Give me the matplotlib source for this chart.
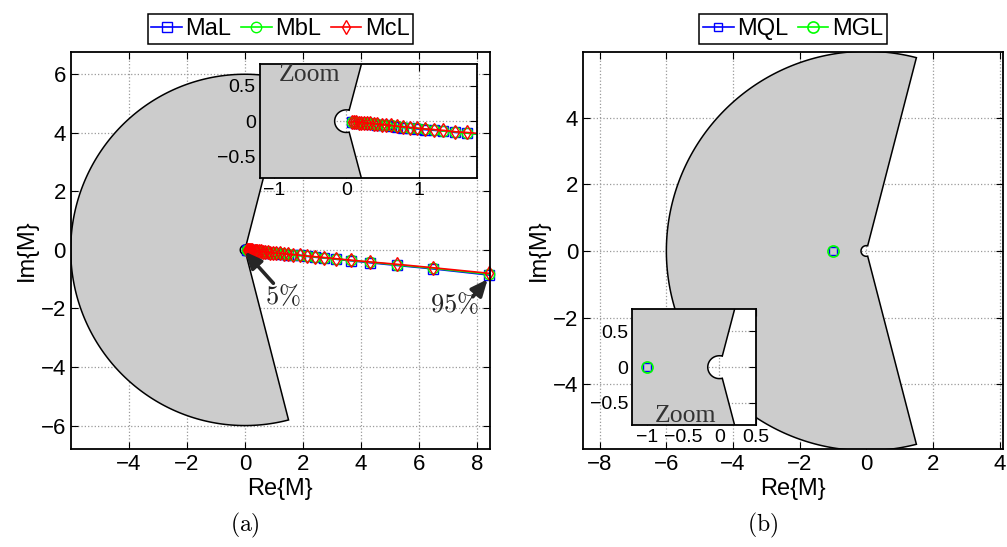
import numpy as np
import matplotlib
matplotlib.use("Agg")
import matplotlib.pyplot as plt
from matplotlib.patches import Polygon

plt.rcParams['font.family'] = ['Liberation Sans', 'DejaVu Sans']
plt.rcParams['mathtext.fontset'] = 'cm'

# forbidden region (grey): sector of radius R between +/- ang deg, minus small disk r
R_out = 6.0
r_in = 0.16
ang = 75.5

# (a) loci, 5% .. 95%
re_L = [0.08, 0.11, 0.14, 0.17, 0.21, 0.24, 0.29, 0.33, 0.38, 0.43, 0.49, 0.55,
        0.62, 0.70, 0.78, 0.88, 0.98, 1.08, 1.21, 1.34, 1.50, 1.67, 1.88, 2.13,
        2.41, 2.73, 3.14, 3.64, 4.31, 5.23, 6.49, 8.42]
im_MaL = [-0.01, -0.01, -0.02, -0.02, -0.02, -0.03, -0.03, -0.04, -0.04, -0.05, -0.05, -0.06,
          -0.07, -0.08, -0.09, -0.10, -0.11, -0.12, -0.13, -0.14, -0.16, -0.17, -0.19, -0.22,
          -0.25, -0.28, -0.32, -0.37, -0.44, -0.53, -0.65, -0.86]
im_MbL = [-0.01, -0.01, -0.01, -0.02, -0.02, -0.02, -0.03, -0.03, -0.04, -0.04, -0.05, -0.06,
          -0.06, -0.07, -0.08, -0.09, -0.10, -0.11, -0.12, -0.14, -0.15, -0.17, -0.19, -0.21,
          -0.24, -0.27, -0.31, -0.36, -0.42, -0.51, -0.63, -0.83]
im_McL = [-0.01, -0.01, -0.01, -0.02, -0.02, -0.02, -0.03, -0.03, -0.04, -0.04, -0.05, -0.05,
          -0.06, -0.07, -0.08, -0.09, -0.10, -0.11, -0.12, -0.13, -0.15, -0.16, -0.18, -0.21,
          -0.23, -0.26, -0.30, -0.35, -0.41, -0.49, -0.61, -0.80]

# (b) single points
re_MQL = [-1.0]
im_MQL = [0.0]
re_MGL = [-1.0]
im_MGL = [0.0]


def region():
    t1 = np.radians(np.linspace(ang, 360 - ang, 200))
    t2 = t1[::-1]
    outer = np.c_[R_out * np.cos(t1), R_out * np.sin(t1)]
    inner = np.c_[r_in * np.cos(t2), r_in * np.sin(t2)]
    return Polygon(np.vstack([outer, inner]), closed=True, fc='#cccccc', ec='black', lw=1.1)


def style(ax, fs):
    ax.tick_params(direction='in', top=True, right=True, labelsize=fs, length=5, width=0.8)
    ax.grid(True, ls=':', color='#9a9a9a', lw=0.9)
    ax.set_axisbelow(True)
    for s in ax.spines.values():
        s.set_linewidth(1.3)


def plot_a(ax, ms, clip=True):
    ax.plot(re_L, im_MaL, '-s', color='blue', mfc='none', ms=ms, lw=1.2, mew=1.0, label='MaL', clip_on=clip)
    ax.plot(re_L, im_MbL, '-o', color='#00ff00', mfc='none', ms=ms, lw=1.2, mew=1.0, label='MbL', clip_on=clip)
    ax.plot(re_L, im_McL, '-d', color='red', mfc='none', ms=ms, lw=1.2, mew=1.0, label='McL', clip_on=clip)


def plot_b(ax, ms):
    ax.plot(re_MQL, im_MQL, '-s', color='blue', mfc='none', ms=ms * 0.75, lw=1.2, mew=1.0, label='MQL')
    ax.plot(re_MGL, im_MGL, '-o', color='#00ff00', mfc='none', ms=ms, lw=1.2, mew=1.2, label='MGL')


fig = plt.figure(figsize=(10.07, 5.47), dpi=100)

# ---------- (a)
ax1 = fig.add_axes([0.0702, 0.1792, 0.4164, 0.7252])
ax1.add_patch(region())
plot_a(ax1, 7.5, clip=False)
ax1.set_xlim(-6.0, 8.44)
ax1.set_ylim(-6.8, 6.75)
ax1.set_xticks([-4, -2, 0, 2, 4, 6, 8])
ax1.set_yticks([-6, -4, -2, 0, 2, 4, 6])
style(ax1, 16)
ax1.set_xlabel('Re{M}', fontsize=17, labelpad=2)
ax1.set_ylabel('Im{M}', fontsize=17, labelpad=2)
ax1.legend(loc='lower center', bbox_to_anchor=(0.5, 1.022), ncol=3, fontsize=17,
           frameon=True, fancybox=False, edgecolor='black', framealpha=1,
           handlelength=1.3, handletextpad=0.15, columnspacing=0.4, borderpad=0.15,
           borderaxespad=0).get_frame().set_linewidth(1.1)

ax1.annotate('', xy=(0.0, -0.06), xytext=(0.98, -1.14),
             arrowprops=dict(arrowstyle='-|>,head_length=0.5,head_width=0.22', color='#262626', lw=2.6,
                             mutation_scale=20, shrinkA=0, shrinkB=0))
ax1.text(1.29, -1.6, r'$5\%$', fontsize=19, ha='center', va='center', color='#222222')
ax1.annotate('', xy=(8.36, -1.0), xytext=(7.85, -1.6),
             arrowprops=dict(arrowstyle='-|>,head_length=0.5,head_width=0.22', color='#262626', lw=2.6,
                             mutation_scale=20, shrinkA=0, shrinkB=0))
ax1.text(7.2, -1.87, r'$95\%$', fontsize=19, ha='center', va='center', color='#222222')

ins1 = fig.add_axes([0.2582, 0.674, 0.2152, 0.209])
ins1.set_facecolor('white')
ins1.add_patch(region())
plot_a(ins1, 7.5)
ins1.set_xlim(-1.19, 1.8)
ins1.set_ylim(-0.81, 0.81)
ins1.set_xticks([-1, 0, 1])
ins1.set_yticks([-0.5, 0, 0.5])
ins1.set_yticklabels(['\u22120.5', '0', '0.5'])
style(ins1, 14)
ins1.tick_params(pad=3)
ins1.text(-0.93, 0.66, 'Zoom', family='Liberation Serif', fontsize=18.5, color='#333333',
          va='center', ha='left')

# ---------- (b)
ax2 = fig.add_axes([0.579, 0.1792, 0.417, 0.7252])
ax2.add_patch(region())
plot_b(ax2, 8)
ax2.set_xlim(-8.5, 4.1)
ax2.set_ylim(-5.95, 5.97)
ax2.set_xticks([-8, -6, -4, -2, 0, 2, 4])
ax2.set_yticks([-4, -2, 0, 2, 4])
style(ax2, 16)
ax2.set_xlabel('Re{M}', fontsize=17, labelpad=2)
ax2.set_ylabel('Im{M}', fontsize=17, labelpad=2)
ax2.legend(loc='lower center', bbox_to_anchor=(0.5, 1.022), ncol=2, fontsize=17,
           frameon=True, fancybox=False, edgecolor='black', framealpha=1,
           handlelength=1.3, handletextpad=0.15, columnspacing=0.4, borderpad=0.15,
           borderaxespad=0).get_frame().set_linewidth(1.1)

ins2 = fig.add_axes([0.6279, 0.223, 0.1225, 0.2115])
ins2.set_facecolor('white')
ins2.add_patch(region())
plot_b(ins2, 8)
ins2.set_xlim(-1.2, 0.5)
ins2.set_ylim(-0.81, 0.81)
ins2.set_xticks([-1, -0.5, 0, 0.5])
ins2.set_xticklabels(['\u22121', '\u22120.5', '0', '0.5'])
ins2.set_yticks([-0.5, 0, 0.5])
ins2.set_yticklabels(['\u22120.5', '0', '0.5'])
style(ins2, 14)
ins2.tick_params(pad=3)
ins2.text(-0.46, -0.68, 'Zoom', family='Liberation Serif', fontsize=18.5, color='#333333',
          va='center', ha='center')

fig.text(0.2433, 0.04, r'$\mathrm{(a)}$', fontsize=17, ha='center', va='center')
fig.text(0.7577, 0.04, r'$\mathrm{(b)}$', fontsize=17, ha='center', va='center')

fig.savefig('out.png', dpi=100)
